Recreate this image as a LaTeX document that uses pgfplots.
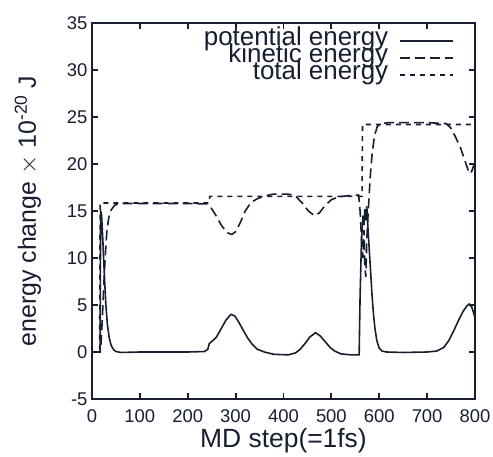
\documentclass[border=0pt]{standalone}
\usepackage{pgfplots}
\pgfplotsset{compat=1.18}
\usepackage{fontspec}
\setmainfont{Liberation Sans}
\definecolor{ink}{RGB}{22,30,48}

\begin{document}
\begin{tikzpicture}
\path[use as bounding box] (-92bp,-58bp) rectangle (401bp,399bp);
\begin{axis}[
  at={(0,0)}, anchor=south west,
  scale only axis,
  width=383bp,
  height=376bp,
  xmin=0, xmax=800,
  ymin=-5, ymax=35,
  xtick={0,100,...,800},
  ytick={-5,0,...,35},
  axis line style={ink, line width=2.2pt},
  tick style={ink, line width=1.8pt},
  major tick length=6bp,
  tick align=inside,
  /pgf/number format/assume math mode=true,
  /pgf/number format/1000 sep={},
  tick label style={font=\fontsize{18.5}{18.5}\selectfont, text=ink},
  xticklabel style={yshift=-7bp},
  yticklabel style={xshift=-1bp},
  xlabel={MD step(=1fs)},
  ylabel={energy change $\times$ 10\textsuperscript{-20} J},
  xlabel style={font=\fontsize{26.5}{26.5}\selectfont, text=ink, yshift=1bp},
  ylabel style={font=\fontsize{25}{25}\selectfont, text=ink, yshift=19bp},
  legend plot pos=right,
  legend cell align=right,
  legend image code/.code={\draw[#1] (0bp,0bp) -- (53bp,0bp);},
  legend style={draw=none, fill=none, at={(0.953,0.980)}, anchor=north east,
    font=\fontsize{26}{26}\selectfont, text=ink,
    nodes={inner ysep=0pt, inner xsep=1bp, text height=13bp, text depth=4bp},
    column sep=10bp, row sep=0bp},
]
\addplot[ink, line width=1.6pt] coordinates {
(0,0) (17,0) (18,15.0) (20,14.6) (23,11.5) (26,8) (29,5) (32,3) (36,1.5) (40,0.7) (45,0.25) (50,0.05) (60,-0.05) (100,0) (150,0) (200,0) (235,0.05) (242,0.3) (245,0.9) (250,1.1) (260,1.6) (270,2.5) (280,3.4) (290,4.0) (298,3.85) (305,3.3) (315,2.4) (325,1.5) (335,0.8) (345,0.3) (360,0) (380,-0.25) (410,-0.3) (425,-0.1) (435,0.3) (445,0.9) (455,1.6) (467,2.05) (477,1.7) (487,1.1) (497,0.5) (507,0.1) (520,-0.2) (540,-0.3) (558,-0.3) (560,6) (563,12) (566,14.5) (568,13.5) (570,15.2) (572,14) (574,15.5) (576,13.5) (579,11) (582,8.5) (585,6) (588,4) (591,2.5) (595,1.2) (600,0.4) (606,0.1) (615,0) (650,-0.05) (700,0) (720,0.1) (735,0.5) (745,1.2) (755,2.2) (765,3.3) (775,4.3) (783,4.9) (788,5.1) (793,4.8) (797,4.2) (800,3.6)
};
\addlegendentry{potential energy}
\addplot[ink, line width=1.6pt, dash pattern=on 10bp off 5bp] coordinates {
(0,0) (17,0) (19,1) (22,4) (25,7.5) (28,10.5) (31,12.8) (35,14.3) (40,15.1) (47,15.6) (55,15.8) (100,15.8) (150,15.8) (200,15.8) (240,15.75) (248,15.4) (258,14.6) (270,13.5) (282,12.7) (292,12.5) (300,12.8) (310,13.8) (320,15) (332,15.9) (345,16.3) (360,16.6) (380,16.8) (410,16.8) (425,16.6) (440,15.8) (452,15.0) (465,14.5) (475,14.8) (487,15.6) (500,16.2) (515,16.5) (530,16.6) (557,16.7) (560,15) (563,12) (566,10) (568,13) (570,9) (572,8) (574,12) (577,15) (581,18.5) (585,21) (590,23) (596,24) (605,24.3) (620,24.4) (650,24.4) (700,24.4) (740,24.3) (750,23.8) (760,22.8) (770,21.7) (780,20.2) (788,19.0) (793,19.2) (797,19.8) (800,20)
};
\addlegendentry{kinetic energy}
\addplot[ink, line width=1.6pt, dash pattern=on 5bp off 5bp] coordinates {
(0,0) (16,0) (17,15.85) (245,15.85) (246,16.55) (564,16.55) (565,24.2) (800,24.2)
};
\addlegendentry{total energy}
\end{axis}
\end{tikzpicture}
\end{document}
